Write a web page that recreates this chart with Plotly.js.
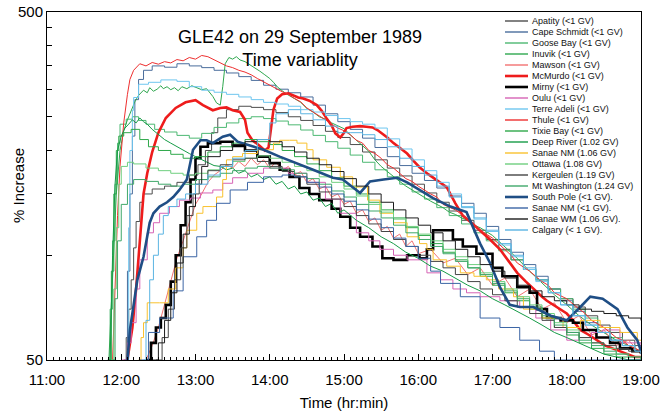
<!DOCTYPE html>
<html><head><meta charset="utf-8">
<script src="https://cdn.plot.ly/plotly-3.0.1.min.js"></script>
<style>html,body{margin:0;padding:0;background:#fff}#chart{width:663px;height:415px}</style>
</head><body><div id="chart"></div>
<script>
const DAY = '1989-09-29 ';
const apatity = [['12:02',50],['12:04',58],['12:06',70],['12:08',85],['12:10',105],['12:12',125],['12:15',142],['12:18',150],['12:25',155],['12:35',158],['12:45',162],['12:55',170],['13:02',182],['13:08',200],['13:13',225],['13:18',248],['13:25',262],['13:35',268],['13:45',266],['13:55',262],['14:05',257],['14:15',250],['14:25',244],['14:35',236],['14:45',227],['14:55',218],['15:05',208],['15:15',198],['15:25',188],['15:35',178],['15:45',169],['15:55',160],['16:05',151],['16:15',142],['16:25',134],['16:35',126],['16:45',118],['16:55',111],['17:05',104],['17:15',97],['17:25',91],['17:35',85],['17:45',80],['17:55',75],['18:05',71],['18:15',67],['18:25',63],['18:35',60],['18:45',57],['18:55',55],['19:00',54]];
const capeSchmidt = [['12:03',50],['12:05',90],['12:07',150],['12:09',220],['12:11',280],['12:14',320],['12:18',340],['12:25',350],['12:35',347],['12:45',355],['12:55',350],['13:05',346],['13:15',340],['13:25',334],['13:35',326],['13:45',318],['13:55',308],['14:05',300],['14:15',293],['14:25',285],['14:35',270],['14:45',255],['14:55',242],['15:05',230],['15:15',217],['15:25',204],['15:35',192],['15:45',181],['15:55',172],['16:05',164],['16:15',156],['16:25',148],['16:35',141],['16:45',132],['16:55',121],['17:05',111],['17:15',102],['17:25',94],['17:35',87],['17:45',80],['17:55',74],['18:05',69],['18:15',64],['18:25',60],['18:35',57],['18:45',55],['18:55',53],['19:00',52]];
const gooseBay = [['11:49',50],['11:51',70],['11:53',110],['11:55',160],['11:57',210],['11:59',238],['12:04',246],['12:09',250],['12:14',244],['12:20',238],['12:27',230],['12:35',226],['12:45',221],['12:55',217],['13:05',224],['13:15',233],['13:25',240],['13:35',247],['13:45',250],['13:55',247],['14:05',243],['14:15',237],['14:25',229],['14:35',221],['14:45',212],['14:55',203],['15:05',194],['15:15',185],['15:25',176],['15:35',168],['15:45',160],['15:55',152],['16:05',145],['16:15',137],['16:25',130],['16:35',123],['16:45',116],['16:55',110],['17:05',103],['17:15',97],['17:25',91],['17:35',85],['17:45',80],['17:55',75],['18:05',70],['18:15',66],['18:25',62],['18:35',58],['18:45',55],['18:55',53],['19:00',52]];
const inuvik = [['11:50',50],['11:53',90],['11:56',150],['11:59',200],['12:02',228],['12:05',245],['12:08',260],['12:11',276],['12:14',288],['12:18',298],['12:21',293],['12:23',303],['12:26',296],['12:29',300],['12:32',307],['12:34',301],['12:37',305],['12:40',299],['12:43',303],['12:46',297],['12:49',305],['12:53',301],['12:57',307],['13:01',303],['13:05',299],['13:09',301],['13:12',292],['13:14',286],['13:17',274],['13:20',270],['13:22',305],['13:24',355],['13:27',370],['13:30',366],['13:33',372],['13:36',364],['13:40',360],['13:44',353],['13:48',346],['13:52',338],['13:56',330],['14:00',322],['14:03',314],['14:06',305],['14:10',297],['14:14',290],['14:20',282],['14:25',275],['14:30',264],['14:35',258],['14:40',250],['14:45',246],['14:50',240],['14:55',236],['15:00',231],['15:05',222],['15:10',214],['15:15',206],['15:20',199],['15:25',188],['15:30',180],['15:35',174],['15:40',168],['15:45',163],['15:50',158],['15:55',154],['16:00',150],['16:05',147],['16:10',143],['16:15',140],['16:20',137],['16:25',133],['16:30',131],['16:35',128],['16:40',126],['16:45',122],['16:50',120],['17:00',114],['17:10',106],['17:20',98],['17:30',90],['17:40',83],['17:50',77],['18:00',72],['18:10',67],['18:20',63],['18:30',60],['18:40',57],['18:50',55],['19:00',53]];
const mawson = [['12:20',50],['12:25',55],['12:30',62],['12:35',72],['12:40',85],['12:45',98],['12:50',110],['12:55',125],['13:00',140],['13:05',150],['13:10',162],['13:15',170],['13:20',175],['13:25',182],['13:30',178],['13:35',186],['13:40',180],['13:45',190],['13:50',182],['13:55',188],['14:00',178],['14:05',185],['14:10',175],['14:15',180],['14:20',170],['14:25',174],['14:30',162],['14:35',166],['14:40',155],['14:45',158],['14:50',147],['14:55',150],['15:00',140],['15:05',143],['15:10',132],['15:15',135],['15:20',125],['15:25',128],['15:30',118],['15:35',121],['15:40',112],['15:45',115],['15:50',106],['15:55',110],['16:00',101],['16:10',104],['16:20',95],['16:30',98],['16:40',88],['16:50',92],['17:00',82],['17:10',86],['17:20',76],['17:30',80],['17:40',70],['17:50',73],['18:00',64],['18:10',67],['18:20',59],['18:30',61],['18:40',55],['18:50',57],['19:00',52]];
const mcMurdo = [['12:05',50],['12:09',62],['12:12',80],['12:14',100],['12:16',125],['12:18',150],['12:21',172],['12:25',198],['12:30',225],['12:36',248],['12:44',265],['12:52',275],['13:00',279],['13:06',270],['13:14',261],['13:20',265],['13:25',266],['13:30',261],['13:36',258],['13:40',245],['13:42',225],['13:46',214],['13:52',206],['13:56',200],['13:59',204],['14:01',230],['14:03',262],['14:06',282],['14:10',290],['14:15',292],['14:19',288],['14:23',284],['14:27',282],['14:32',278],['14:38',270],['14:42',260],['14:46',247],['14:50',236],['14:53',224],['14:57',218],['15:00',225],['15:02',232],['15:07',234],['15:13',235],['15:18',234],['15:23',233],['15:27',229],['15:31',224],['15:35',218],['15:40',210],['15:45',203],['15:51',196],['15:56',187],['16:01',179],['16:08',171],['16:15',164],['16:23',157],['16:30',141],['16:36',130],['16:43',124],['16:50',118],['16:58',111],['17:06',104],['17:13',96],['17:20',89],['17:27',84],['17:33',80],['17:40',76],['17:44',74],['17:52',71],['18:00',68],['18:05',65],['18:11',61],['18:18',59],['18:24',57],['18:31',55],['18:37',54],['18:43',53],['18:48',52],['18:55',51],['19:00',51]];
const mirny = [['12:20',50],['12:24',56],['12:28',62],['12:32',66],['12:36',72],['12:40',84],['12:44',100],['12:48',122],['12:52',142],['12:56',165],['13:00',190],['13:04',205],['13:10',210],['13:20',212],['13:30',206],['13:40',200],['13:50',192],['14:00',184],['14:08',176],['14:16',168],['14:24',156],['14:32',150],['14:40',144],['14:50',136],['14:57',129],['15:05',120],['15:13',113],['15:23',106],['15:31',98],['15:40',97],['15:51',100],['16:01',98],['16:07',104],['16:12',118],['16:20',118],['16:28',111],['16:36',106],['16:47',101],['17:00',92],['17:08',87],['17:20',81],['17:30',78],['17:36',70],['17:44',66],['17:55',65],['18:05',64],['18:13',61],['18:24',58],['18:35',56],['18:43',54],['18:53',53],['19:00',52]];
const oulu = [['12:00',50],['12:05',56],['12:08',64],['12:12',80],['12:15',97],['12:21',116],['12:26',124],['12:31',132],['12:39',138],['12:47',144],['12:56',146],['13:04',151],['13:14',154],['13:22',161],['13:30',167],['13:42',172],['13:55',178],['14:05',178],['14:15',172],['14:30',162],['14:45',145],['14:57',132],['15:10',116],['15:20',110],['15:29',104],['15:40',100],['15:51',97],['16:07',89],['16:18',85],['16:28',80],['16:39',78],['16:50',76],['17:06',74],['17:22',71],['17:35',66],['17:47',61],['18:00',57],['18:10',58],['18:20',60],['18:29',61],['18:43',56],['19:00',52]];
const terreAdeli = [['12:04',50],['12:06',120],['12:07',200],['12:09',261],['12:10',284],['12:14',310],['12:22',314],['12:32',319],['12:45',316],['12:55',305],['13:05',298],['13:15',294],['13:25',290],['13:35',285],['13:45',280],['13:55',275],['14:05',272],['14:15',268],['14:25',262],['14:35',258],['14:45',252],['14:55',247],['15:05',242],['15:15',238],['15:25',232],['15:35',216],['15:45',202],['15:55',188],['16:05',175],['16:15',162],['16:25',150],['16:35',138],['16:45',127],['16:55',117],['17:05',107],['17:15',99],['17:25',91],['17:35',84],['17:45',78],['17:55',72],['18:05',67],['18:15',63],['18:25',60],['18:35',57],['18:45',55],['18:55',53],['19:00',52]];
const thule = [['11:53',50],['11:55',80],['11:57',130],['11:59',180],['12:02',240],['12:05',290],['12:07',320],['12:10',340],['12:15',355],['12:20',350],['12:25',358],['12:30',354],['12:35',360],['12:40',357],['12:45',365],['12:50',362],['12:55',370],['13:00',366],['13:05',375],['13:10',372],['13:15',365],['13:20',358],['13:25',350],['13:30',346],['13:35',340],['13:40',336],['13:45',330],['13:50',322],['13:55',315],['14:00',308],['14:05',300],['14:10',295],['14:15',290],['14:20',282],['14:25',276],['14:30',265],['14:35',258],['14:40',252],['14:45',245],['14:50',238],['14:55',232],['15:00',228],['15:05',222],['15:10',214],['15:15',210],['15:20',200],['15:25',196],['15:30',190],['15:35',182],['15:40',178],['15:45',172],['15:50',166],['15:55',163],['16:00',158],['16:10',150],['16:15',147],['16:20',140],['16:30',135],['16:40',127],['16:45',122],['16:50',118],['17:00',112],['17:10',104],['17:15',100],['17:20',95],['17:30',90],['17:40',84],['17:45',82],['17:50',78],['18:00',75],['18:10',70],['18:15',68],['18:20',65],['18:30',62],['18:40',58],['18:45',57],['18:50',55],['19:00',53]];
const tixieBay = [['11:50',50],['11:52',90],['11:54',150],['11:56',200],['11:58',220],['12:02',225],['12:08',230],['12:15',215],['12:22',205],['12:30',200],['12:40',195],['12:50',190],['13:00',192],['13:10',198],['13:20',205],['13:30',210],['13:40',215],['13:50',212],['14:00',208],['14:10',200],['14:20',192],['14:30',183],['14:40',175],['14:50',167],['15:00',158],['15:10',150],['15:20',142],['15:30',135],['15:40',128],['15:50',120],['16:00',114],['16:10',108],['16:20',102],['16:30',97],['16:40',92],['16:50',87],['17:00',82],['17:10',78],['17:20',74],['17:30',70],['17:40',66],['17:50',62],['18:00',59],['18:10',56],['18:20',54],['18:30',52],['18:40',51],['18:50',50],['19:00',50]];
const deepRiver = [['11:51',50],['11:53',100],['11:55',160],['11:57',200],['12:00',220],['12:03',232],['12:06',238],['12:09',245],['12:12',240],['12:15',248],['12:18',242],['12:21',238],['12:25',230],['12:30',222],['12:35',215],['12:40',210],['12:45',205],['12:50',200],['12:55',196],['13:00',192],['13:05',188],['13:10',185],['13:15',181],['13:20',180],['13:25',176],['13:30',178],['13:35',172],['13:40',175],['13:45',168],['13:50',171],['13:55',165],['14:00',168],['14:05',160],['14:10',163],['14:15',155],['14:20',158],['14:25',150],['14:30',152],['14:35',144],['14:40',146],['14:45',138],['14:50',141],['14:55',132],['15:00',135],['15:10',126],['15:20',120],['15:30',113],['15:40',108],['15:50',102],['16:00',98],['16:10',93],['16:20',90],['16:30',86],['16:40',82],['16:50',79],['17:00',75],['17:10',72],['17:20',69],['17:30',66],['17:40',63],['17:50',60],['18:00',58],['18:10',56],['18:20',54],['18:30',52],['18:40',51],['18:50',50],['19:00',50]];
const sanaeNM106 = [['12:14',50],['12:16',58],['12:18',64],['12:21',73],['12:31',73],['12:38',80],['12:44',92],['12:50',105],['12:53',118],['13:01',132],['13:06',138],['13:14',138],['13:17',147],['13:22',165],['13:25',188],['13:30',192],['13:38',196],['13:50',201],['14:03',210],['14:08',214],['14:16',214],['14:22',210],['14:30',201],['14:35',188],['14:46',179],['14:57',168],['15:07',157],['15:19',144],['15:29',132],['15:40',124],['15:51',113],['16:01',108],['16:07',104],['16:12',97],['16:23',93],['16:34',89],['16:45',87],['16:55',85],['17:05',80],['17:17',76],['17:25',70],['17:40',66],['17:57',62],['18:11',65],['18:27',62],['18:43',60],['18:57',57],['19:00',57]];
const ottawa = [['11:52',50],['11:54',80],['11:56',120],['11:58',160],['12:00',180],['12:05',185],['12:10',183],['12:20',178],['12:30',175],['12:40',172],['12:50',170],['13:00',172],['13:10',176],['13:20',180],['13:30',186],['13:40',190],['13:50',193],['14:00',190],['14:10',185],['14:20',180],['14:30',175],['14:40',168],['14:50',162],['15:00',155],['15:10',148],['15:20',140],['15:30',133],['15:40',127],['15:50',121],['16:00',115],['16:10',110],['16:20',104],['16:30',99],['16:40',94],['16:50',89],['17:00',84],['17:10',80],['17:20',76],['17:30',72],['17:40',68],['17:50',64],['18:00',61],['18:10',58],['18:20',56],['18:30',54],['18:40',52],['18:50',51],['19:00',50]];
const kergeulen = [['12:28',50],['12:33',58],['12:38',70],['12:43',85],['12:48',105],['12:53',130],['12:58',150],['13:03',165],['13:10',175],['13:20',182],['13:30',188],['13:40',190],['13:50',186],['14:00',180],['14:10',174],['14:20',168],['14:30',160],['14:40',152],['14:50',145],['15:00',138],['15:10',130],['15:20',123],['15:30',117],['15:40',111],['15:50',106],['16:00',100],['16:10',96],['16:20',92],['16:30',88],['16:40',84],['16:50',80],['17:00',77],['17:10',74],['17:20',71],['17:30',68],['17:40',65],['17:50',62],['18:00',60],['18:10',58],['18:20',56],['18:30',55],['18:40',54],['18:50',53],['19:00',52]];
const mtWashington = [['11:53',50],['11:55',75],['11:57',110],['12:00',140],['12:05',160],['12:10',165],['12:20',163],['12:30',160],['12:40',158],['12:50',160],['13:00',165],['13:10',168],['13:20',172],['13:30',175],['13:40',178],['13:50',180],['14:00',178],['14:10',176],['14:20',172],['14:30',166],['14:40',160],['14:50',153],['15:00',147],['15:10',140],['15:20',134],['15:30',128],['15:40',122],['15:50',116],['16:00',111],['16:10',106],['16:20',101],['16:30',96],['16:40',92],['16:50',88],['17:00',83],['17:10',79],['17:20',75],['17:30',71],['17:40',67],['17:50',63],['18:00',60],['18:10',57],['18:20',55],['18:30',53],['18:40',52],['18:50',51],['19:00',50]];
const southPole = [['12:05',50],['12:07',61],['12:10',72],['12:13',85],['12:18',99],['12:23',124],['12:26',132],['12:31',138],['12:37',142],['12:42',147],['12:47',154],['12:53',165],['12:58',201],['13:04',214],['13:09',214],['13:14',210],['13:22',219],['13:28',222],['13:34',212],['13:42',208],['13:55',201],['14:08',192],['14:22',184],['14:35',176],['14:51',167],['14:59',165],['15:13',151],['15:21',163],['15:32',165],['15:43',167],['15:51',162],['16:01',154],['16:12',146],['16:26',138],['16:39',133],['16:50',108],['16:58',95],['17:06',81],['17:14',72],['17:22',71],['17:33',71],['17:47',67],['18:00',65],['18:11',71],['18:19',76],['18:29',75],['18:41',70],['18:49',62],['18:57',57],['19:00',53]];
const sanaeNMlow = [['12:15',50],['12:22',60],['12:31',66],['12:42',79],['12:50',99],['13:01',113],['13:09',126],['13:17',141],['13:28',154],['13:42',162],['13:55',168],['14:10',170],['14:20',168],['14:30',162],['14:40',157],['14:50',150],['15:00',143],['15:10',135],['15:20',127],['15:30',120],['15:40',112],['15:50',106],['16:00',98],['16:10',90],['16:18',83],['16:34',76],['16:50',66],['17:06',62],['17:22',57],['17:38',53],['17:50',50],['19:00',50]];
const sanaeWM = [['12:25',50],['12:30',56],['12:35',65],['12:40',78],['12:45',95],['12:50',115],['12:55',138],['13:00',160],['13:05',180],['13:10',192],['13:20',200],['13:30',208],['13:40',212],['13:50',215],['14:00',212],['14:10',205],['14:20',198],['14:30',190],['14:40',182],['14:50',174],['15:00',166],['15:10',158],['15:20',150],['15:30',142],['15:40',135],['15:50',128],['16:00',122],['16:10',116],['16:20',110],['16:30',104],['16:40',99],['16:50',94],['17:00',90],['17:10',86],['17:20',82],['17:30',79],['17:40',76],['17:50',74],['18:00',72],['18:10',70],['18:20',69],['18:30',68],['18:40',67],['18:50',66],['19:00',65]];
const calgary = [['12:18',50],['12:20',65],['12:23',85],['12:26',100],['12:30',115],['12:34',130],['12:38',138],['12:45',145],['12:52',150],['13:00',160],['13:10',170],['13:20',180],['13:30',190],['13:40',200],['13:50',215],['14:00',240],['14:05',255],['14:15',262],['14:25',255],['14:35',245],['14:45',235],['14:55',225],['15:05',225],['15:15',222],['15:25',215],['15:35',205],['15:45',190],['15:55',180],['16:05',170],['16:15',158],['16:25',147],['16:35',137],['16:45',128],['16:55',118],['17:05',108],['17:15',100],['17:25',92],['17:35',85],['17:45',78],['17:55',72],['18:05',67],['18:15',63],['18:25',60],['18:35',57],['18:45',55],['18:55',53],['19:00',52]];

const seriesNames = ['Apatity (<1 GV)','Cape Schmidt (<1 GV)','Goose Bay (<1 GV)','Inuvik (<1 GV)','Mawson (<1 GV)','McMurdo (<1 GV)','Mirny (<1 GV)','Oulu (<1 GV)','Terre Adeli (<1 GV)','Thule (<1 GV)','Tixie Bay (<1 GV)','Deep River (1.02 GV)','Sanae NM (1.06 GV)','Ottawa (1.08 GV)','Kergeulen (1.19 GV)','Mt Washington (1.24 GV)','South Pole (<1 GV).','Sanae NM (<1 GV).','Sanae WM (1.06 GV).','Calgary (< 1 GV).'];
const seriesData = [apatity,capeSchmidt,gooseBay,inuvik,mawson,mcMurdo,mirny,oulu,terreAdeli,thule,tixieBay,deepRiver,sanaeNM106,ottawa,kergeulen,mtWashington,southPole,sanaeNMlow,sanaeWM,calgary];
const seriesColors = ['#4d4d4d','#4a6d9c','#4cb872','#2fa84f','#f27272','#ee1c1c','#000000','#d663b5','#6ec6ef','#ee3030','#2ea84a','#169b47','#f9c22e','#6fcf7f','#454545','#3fa86a','#1f4e85','#3b65a5','#1b1b1b','#5ab4e2'];
const seriesWidth = [1,1,1,1,1,2.6,2.6,1,1,1,1,1,1,1,1,1,2.6,1,1,1];
const seriesShape = ['hv','hv','hv','linear','linear','linear','hv','hv','hv','linear','hv','linear','hv','hv','hv','hv','linear','hv','hv','hv'];

const FONT = 'Liberation Sans, Arial, Helvetica, sans-serif';
const L = 47, R = 641, T = 12, B = 360;
const px2x = p => (p - L) / (R - L);
const px2y = p => (B - p) / (B - T);

const traces = seriesData.map((s, i) => ({
  type: 'scatter', mode: 'lines', name: seriesNames[i],
  x: s.map(d => DAY + d[0]), y: s.map(d => d[1]),
  line: {color: seriesColors[i], width: seriesWidth[i], shape: seriesShape[i]},
  showlegend: false, hoverinfo: 'skip'
}));

const shapes = [], annotations = [];
seriesNames.forEach((n, i) => {
  const yy = px2y(21 + 11 * i);
  shapes.push({type: 'line', xref: 'paper', yref: 'paper', x0: px2x(505), x1: px2x(528), y0: yy, y1: yy,
    line: {color: seriesColors[i], width: seriesWidth[i] > 2 ? 2.6 : 1.4}});
  annotations.push({xref: 'paper', yref: 'paper', x: px2x(530), y: yy, xanchor: 'left', yanchor: 'middle',
    text: n, showarrow: false, font: {family: FONT, size: 9, color: '#111'}});
});
annotations.push({xref: 'paper', yref: 'paper', x: px2x(18), y: 0.5, xanchor: 'center', yanchor: 'middle',
  text: '% Increase', textangle: -90, showarrow: false, font: {family: FONT, size: 15, color: '#000'}});

const yTicks = [50,100,150,200,250,300,350,400,450,500];
const yTickText = ['50','','','','','','','','','500'];

const layout = {
  width: 663, height: 415,
  margin: {l: L, r: 663 - R, t: T, b: 415 - B},
  paper_bgcolor: '#fff', plot_bgcolor: '#fff',
  font: {family: FONT, color: '#000'},
  title: {text: 'GLE42 on 29 September 1989<br>Time variablity', font: {family: FONT, size: 18, color: '#000'},
    xref: 'container', x: 300 / 663, xanchor: 'center', yref: 'container', y: 1 - 43 / 415, yanchor: 'middle'},
  xaxis: {type: 'date', range: [DAY + '11:00', DAY + '19:00'], tick0: DAY + '11:00', dtick: 3600000,
    tickformat: '%H:%M', ticks: 'inside', ticklen: 6, tickcolor: '#000', showgrid: false, zeroline: false,
    showline: true, linecolor: '#000', linewidth: 1, mirror: true,
    tickfont: {family: FONT, size: 15, color: '#000'}, ticklabelstandoff: 6,
    minor: {dtick: 300000, ticks: 'inside', ticklen: 3, tickcolor: '#000', showgrid: false},
    title: {text: 'Time (hr:min)', font: {family: FONT, size: 15, color: '#000'}, standoff: 10}},
  yaxis: {type: 'log', range: [Math.log10(50), Math.log10(500)], tickmode: 'array', tickvals: yTicks, ticktext: yTickText,
    ticks: 'inside', ticklen: 5, tickcolor: '#000', showgrid: false, zeroline: false,
    showline: true, linecolor: '#000', linewidth: 1, mirror: true,
    tickfont: {family: FONT, size: 15, color: '#000'}},
  shapes: shapes, annotations: annotations
};

Plotly.newPlot('chart', traces, layout, {staticPlot: true, displayModeBar: false});
</script></body></html>
